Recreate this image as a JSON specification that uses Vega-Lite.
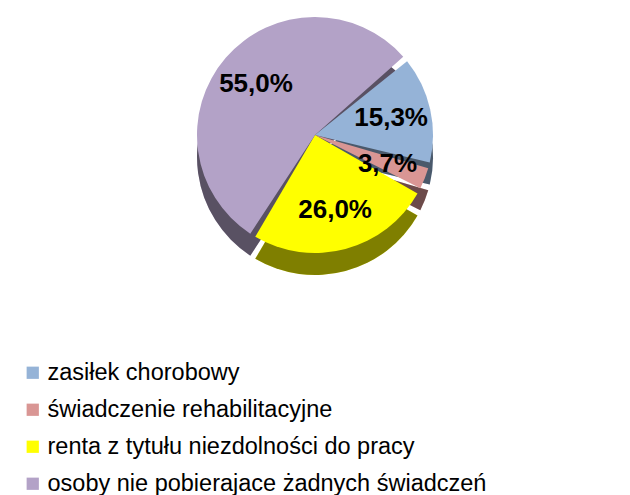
{
  "$schema": "https://vega.github.io/schema/vega-lite/v6.json",
  "width": 630,
  "height": 270,
  "padding": 0,
  "autosize": {"type": "pad"},
  "background": "white",
  "config": {"view": {"stroke": null}, "font": "Liberation Sans"},
  "data": {
    "values": [
      {"k": 1, "kategoria": "zasiłek chorobowy", "udzial": 15.3, "etykieta": "15,3%"},
      {"k": 2, "kategoria": "świadczenie rehabilitacyjne", "udzial": 3.7, "etykieta": "3,7%"},
      {"k": 3, "kategoria": "renta z tytułu niezdolności do pracy", "udzial": 26.0, "etykieta": "26,0%"},
      {"k": 4, "kategoria": "osoby nie pobierajace żadnych świadczeń", "udzial": 55.0, "etykieta": "55,0%"}
    ]
  },
  "encoding": {
    "theta": {"field": "udzial", "type": "quantitative", "stack": true, "scale": {"range": [0.87, 7.153]}},
    "order": {"field": "k", "type": "quantitative"}
  },
  "layer": [
    {
      "mark": {"type": "arc", "outerRadius": 118, "padAngle": 0.05, "yOffset": 22},
      "encoding": {
        "color": {
          "field": "kategoria", "type": "nominal",
          "scale": {
            "domain": ["zasiłek chorobowy", "świadczenie rehabilitacyjne", "renta z tytułu niezdolności do pracy", "osoby nie pobierajace żadnych świadczeń"],
            "range": ["#95B3D7", "#D99694", "#FFFF00", "#B3A2C7"]
          },
          "legend": {
            "orient": "none", "legendX": 21, "legendY": 361, "title": null,
            "symbolType": "square", "symbolSize": 150, "symbolStrokeWidth": 0,
            "labelFontSize": 23.5, "labelFont": "Liberation Sans", "labelColor": "#000000",
            "labelOffset": 3, "rowPadding": 12, "labelLimit": 600
          }
        }
      }
    },
    {
      "mark": {"type": "arc", "outerRadius": 118, "padAngle": 0.05, "yOffset": 22, "color": "#000000", "opacity": 0.5},
      "encoding": {}
    },
    {
      "mark": {"type": "arc", "outerRadius": 118, "padAngle": 0.05},
      "encoding": {
        "color": {"field": "kategoria", "type": "nominal"}
      }
    },
    {
      "mark": {"type": "text", "radius": 78, "fontSize": 26, "fontWeight": "bold", "font": "Liberation Sans", "color": "#000000"},
      "encoding": {
        "text": {"field": "etykieta", "type": "nominal"}
      }
    }
  ]
}
